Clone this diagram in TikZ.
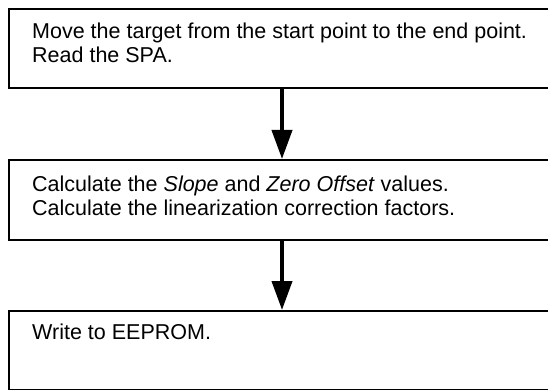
\documentclass[tikz,border=0pt]{standalone}
\usepackage{fontspec}
\setmainfont{Liberation Sans}
\usetikzlibrary{arrows.meta}
\begin{document}
\begin{tikzpicture}[x=1pt,y=-1pt,
  stepbox/.style={draw, line width=2pt, fill=white, minimum width=546pt, inner sep=0pt, anchor=north west},
  txt/.style={anchor=base west, inner sep=0pt, font=\fontsize{21.5}{25}\selectfont},
  flow/.style={line width=4pt, -{Triangle[width=20pt,length=29pt]}}]
\useasboundingbox (0,0) rectangle (548,390);
\fill[white] (0,0) rectangle (548,390);
\clip (0,0) rectangle (548,390);
\node[stepbox, minimum height=79pt] (b1) at (8,8) {};
\node[stepbox, minimum height=80pt] (b2) at (8,159) {};
\node[stepbox, minimum height=79pt] (b3) at (8,310) {};
\node[txt] (t1a) at (32,39) {Move the target from the start point to the end point.};
\node[txt] (t1b) at (32,63) {Read the SPA.};
\node[txt] (t2a) at (32,191) {Calculate the \textit{Slope} and \textit{Zero Offset} values.};
\node[txt] (t2b) at (32,215) {Calculate the linearization correction factors.};
\node[txt] (t3a) at (32,339) {Write to EEPROM.};
\draw[flow] (b1.south) -- (b2.north);
\draw[flow] (b2.south) -- (b3.north);
\end{tikzpicture}
\end{document}
